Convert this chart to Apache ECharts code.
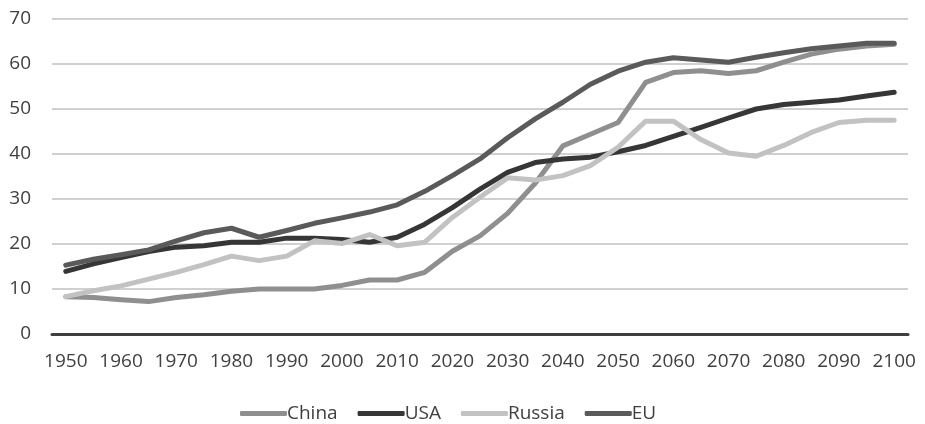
<!DOCTYPE html>
<html>
<head>
<meta charset="utf-8">
<script src="https://cdn.jsdelivr.net/npm/echarts@6/dist/echarts.min.js"></script>
<style>
  html, body { margin: 0; padding: 0; background: #fff; }
  #chart { width: 925px; height: 424px; }
</style>
</head>
<body>
<div id="chart"></div>
<script>
// Years every 5 years, 1950–2100
const years = [];
for (let y = 1950; y <= 2100; y += 5) years.push(String(y));

const china = [8.3, 8.1, 7.6, 7.2, 8.1, 8.7, 9.5, 10.0, 10.0, 10.0, 10.8, 12.0, 12.0, 13.7, 18.4, 21.8,
  26.8, 33.5, 41.8, 44.4, 47.0, 55.9, 58.1, 58.5, 57.9, 58.5, 60.4, 62.2, 63.3, 64.0, 64.4];
const usa = [13.9, 15.6, 17.0, 18.3, 19.3, 19.6, 20.4, 20.4, 21.3, 21.3, 21.0, 20.4, 21.5, 24.4, 28.1, 32.2,
  35.9, 38.1, 38.9, 39.3, 40.5, 41.9, 43.9, 45.9, 48.0, 50.0, 51.0, 51.5, 52.0, 52.9, 53.7];
const russia = [8.3, 9.6, 10.7, 12.2, 13.7, 15.4, 17.3, 16.3, 17.3, 20.7, 20.1, 22.1, 19.6, 20.4, 25.9, 30.4,
  34.7, 34.2, 35.2, 37.4, 41.5, 47.3, 47.3, 43.2, 40.2, 39.5, 41.9, 44.8, 47.0, 47.5, 47.5];
const eu = [15.3, 16.6, 17.6, 18.7, 20.7, 22.5, 23.5, 21.5, 23.0, 24.6, 25.8, 27.1, 28.7, 31.7, 35.2, 38.9,
  43.6, 47.8, 51.5, 55.5, 58.4, 60.4, 61.4, 60.9, 60.4, 61.5, 62.5, 63.4, 64.0, 64.6, 64.6];

const yTicks = { min: 0, max: 70, interval: 10 };

const FONT = '"Open Sans", "Noto Sans", sans-serif';
const TEXT = '#404040';

function line(name, data, color) {
  return {
    name, type: 'line', data,
    symbol: 'none', smooth: false,
    lineStyle: { color, width: 5, cap: 'round', join: 'round' },
    itemStyle: { color },
    emphasis: { disabled: true },
    animation: false
  };
}

const chart = echarts.init(document.getElementById('chart'), null, { renderer: 'canvas' });
chart.setOption({
  backgroundColor: '#ffffff',
  animation: false,
  grid: { left: 52, right: 17, top: 19, bottom: 90, containLabel: false },
  xAxis: {
    type: 'category',
    data: years,
    boundaryGap: true,
    axisLine: { show: true, lineStyle: { color: '#404040', width: 3 } },
    axisTick: { show: false },
    axisLabel: { interval: 1, color: TEXT, fontFamily: FONT, fontSize: 19, margin: 18 },
    splitLine: { show: false }
  },
  yAxis: {
    type: 'value',
    min: yTicks.min, max: yTicks.max, interval: yTicks.interval,
    axisLine: { show: false },
    axisTick: { show: false },
    axisLabel: { color: TEXT, fontFamily: FONT, fontSize: 19, margin: 21 },
    splitLine: { lineStyle: { color: '#c0c0c0', width: 1.6 } }
  },
  legend: {
    data: ['China', 'USA', 'Russia', 'EU'],
    left: 235, top: 399,
    icon: 'roundRect',
    itemWidth: 47, itemHeight: 5, itemGap: 20,
    textStyle: { color: TEXT, fontFamily: FONT, fontSize: 19, padding: [0, 0, 0, -5] }
  },
  series: [
    line('China', china, '#8f8f8f'),
    line('USA', usa, '#363636'),
    line('Russia', russia, '#c2c2c2'),
    line('EU', eu, '#5a5a5a')
  ]
});
</script>
</body>
</html>
